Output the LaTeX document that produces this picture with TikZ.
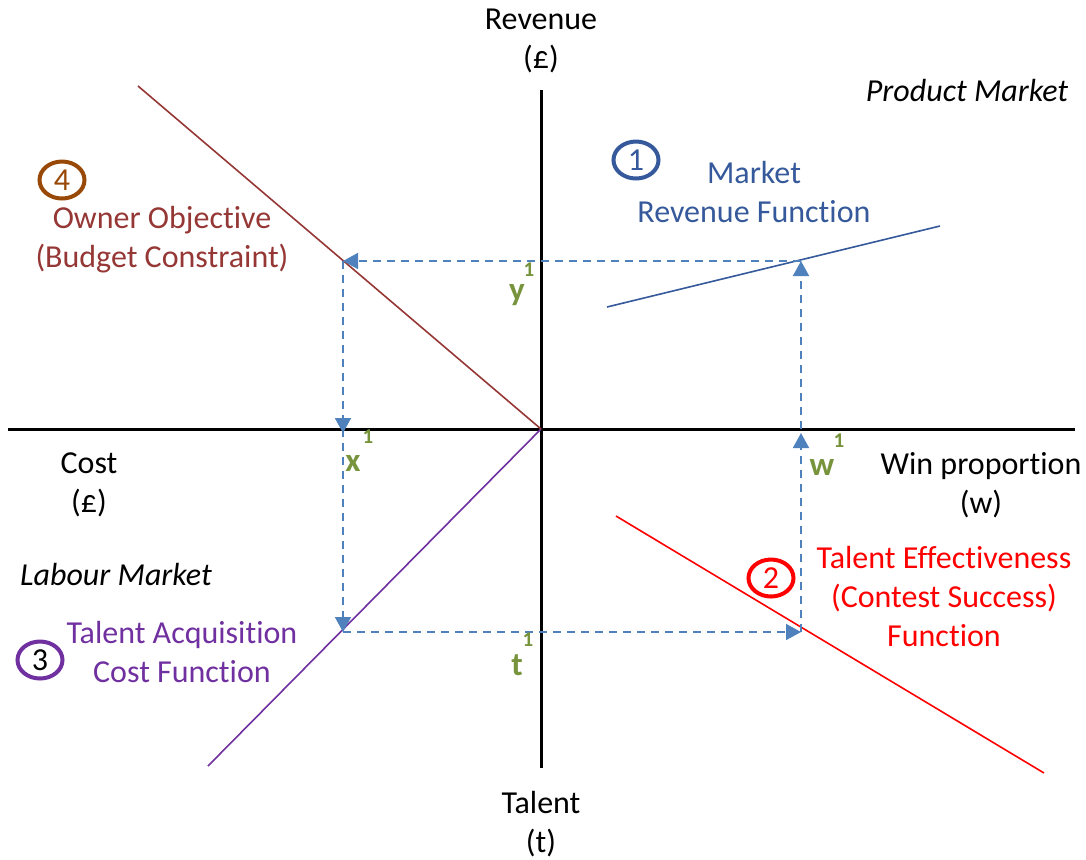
\documentclass[tikz,border=0pt]{standalone}
\usepackage{fontspec}
\setmainfont{Carlito}[RawFeature={-liga;-clig;-calt}]
\usetikzlibrary{arrows.meta,shapes.geometric}

\definecolor{revblue}{HTML}{35599A}
\definecolor{ownerred}{HTML}{953735}
\definecolor{ownerbrown}{HTML}{984807}
\definecolor{costpurple}{HTML}{7030A0}
\definecolor{guideblue}{HTML}{4F81BD}
\definecolor{markgreen}{HTML}{77933C}

\begin{document}
\begin{tikzpicture}[
    x=0.5pt,y=-0.5pt,
    txt/.style={font={\fontsize{16}{19.5}\selectfont}, align=center, inner sep=0pt},
    axis/.style={line width=1.5pt},
    func/.style={line width=0.8pt},
    num/.style={ellipse, draw, line width=2pt, minimum width=22.5pt, minimum height=18.5pt,
        inner sep=0pt, font={\fontsize{16}{19.5}\selectfont}},
    guide/.style={guideblue, line width=0.9pt, dash pattern=on 4pt off 3pt},
    tip/.style={-{Triangle[width=8pt,length=7.5pt]}, guideblue},
    val/.style={markgreen, inner sep=0pt, font={\fontsize{16.5}{18}\selectfont\bfseries}},
    valsup/.style={markgreen, inner sep=0pt, font={\fontsize{10.5}{12}\selectfont\bfseries}},
    ]
    \useasboundingbox (0,0) rectangle (1086,859);

    % axes
    \coordinate (O) at (541,429);
    \coordinate (xl) at (8,429);
    \coordinate (xr) at (1075,429);
    \coordinate (yt) at (541,90);
    \coordinate (yb) at (541,768);
    \draw[axis] (xl) -- (xr);
    \draw[axis] (yt) -- (yb);

    \node[txt] (rev) at (541,41) {Revenue\\(£)};
    \node[txt] (tal) at (541,824) {Talent\\(t)};
    \node[txt] (cost) at (89,485) {Cost\\(£)};
    \node[txt] (win) at (981,485) {Win proportion\\(w)};
    \node[txt, font={\fontsize{16}{19.5}\selectfont\itshape}] (prod) at (967,90) {Product Market};
    \node[txt, font={\fontsize{16}{19.5}\selectfont\itshape}] (lab) at (116,574) {Labour Market};

    % 1: market revenue
    \coordinate (r1) at (607,307);
    \coordinate (r2) at (940,226);
    \draw[func, revblue] (r1) -- (r2);
    \node[num, revblue] (n1) at (636,160) {1};
    \node[txt, revblue] (revf) at (754,192) {Market\\Revenue Function};

    % 2: talent effectiveness
    \coordinate (e1) at (616,516);
    \coordinate (e2) at (1044,773);
    \draw[func, red] (e1) -- (e2);
    \node[num, red] (n2) at (771,578) {2};
    \node[txt, red] (eff) at (944,596) {Talent Effectiveness\\(Contest Success)\\Function};

    % 3: talent acquisition cost
    \coordinate (c1) at (208,766);
    \draw[func, costpurple] (c1) -- (O);
    \node[num, costpurple, text=black] (n3) at (40,660) {3};
    \node[txt, costpurple] (acq) at (182,652) {Talent Acquisition\\Cost Function};

    % 4: owner objective
    \coordinate (b1) at (138,86);
    \draw[func, ownerred] (b1) -- (O);
    \node[num, ownerbrown] (n4) at (62,180) {4};
    \node[txt, ownerred] (own) at (162,240) {Owner Objective\\(Budget Constraint)};

    % equilibrium path
    \coordinate (py) at (801,261);
    \coordinate (px) at (343,261);
    \coordinate (ax) at (343,429);
    \coordinate (pt) at (343,632);
    \coordinate (pw) at (801,632);
    \coordinate (aw) at (801,429);
    \draw[guide, tip] (aw) -- (py);
    \draw[guide, tip] (py) -- (px);
    \draw[guide, tip] (px) -- ([yshift=-2pt]ax);
    \draw[guide, tip] (ax) -- (pt);
    \draw[guide, tip] (pt) -- (pw);
    \draw[guide, tip] (pw) -- ([yshift=-2pt]aw);

    \node[val] (y1) at (517,295) {y};
    \node[valsup] at (529,270) {1};
    \node[val] (x1) at (353,463) {x};
    \node[valsup] at (368,437) {1};
    \node[val] (w1) at (822,467) {w};
    \node[valsup] at (839,441) {1};
    \node[val] (t1) at (517,665) {t};
    \node[valsup] at (528,640) {1};
\end{tikzpicture}
\end{document}
